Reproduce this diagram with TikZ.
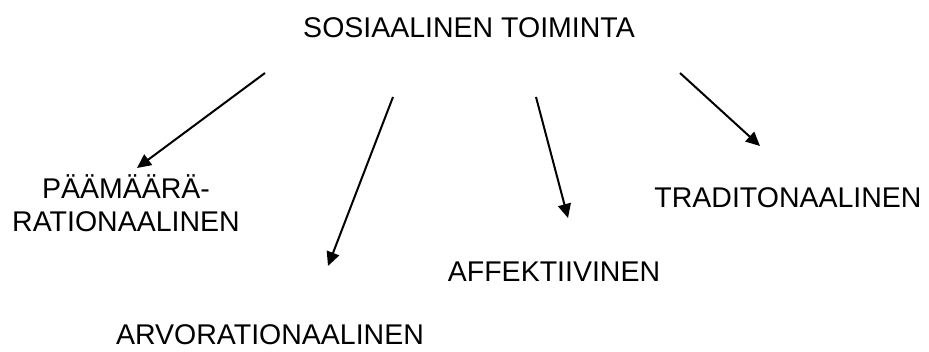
\documentclass[tikz,border=0pt]{standalone}
\usepackage{fontspec}
\setmainfont{Liberation Sans}
\usetikzlibrary{arrows.meta}
\tikzset{
label/.style={
  font=\fontsize{28.5}{33}\selectfont,
  inner sep=0pt,
  anchor=base
},
kind/.style={
  line width=2pt,
  -{Triangle[length=14pt,width=13pt]}
}
}

\begin{document}
\begin{tikzpicture}[x=1pt,y=-1pt]
\useasboundingbox (0,0) rectangle (929,352);
% the labels
\node[label] (toim) at (469,38) {SOSIAALINEN TOIMINTA};
\node[label,align=center] (paam) at (126,232) {PÄÄMÄÄRÄ-\\RATIONAALINEN};
\node[label] (arvo) at (270,345) {ARVORATIONAALINEN};
\node[label] (affe) at (554,282) {AFFEKTIIVINEN};
\node[label] (trad) at (788,208) {TRADITONAALINEN};
% the arrows
\coordinate (a1) at (265,73);
\coordinate (b1) at (137,168);
\coordinate (a2) at (393,97);
\coordinate (b2) at (328,266);
\coordinate (a3) at (536,97);
\coordinate (b3) at (568,218);
\coordinate (a4) at (680,73);
\coordinate (b4) at (760,146);
\draw[kind] (a1) -- (b1);
\draw[kind] (a2) -- (b2);
\draw[kind] (a3) -- (b3);
\draw[kind] (a4) -- (b4);
\end{tikzpicture}
\end{document}
